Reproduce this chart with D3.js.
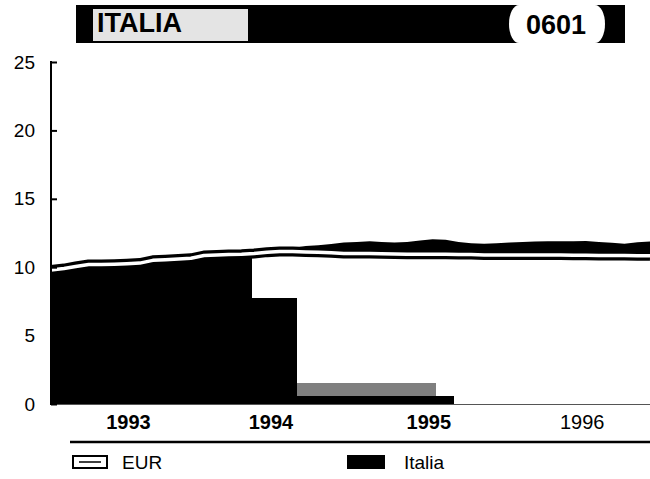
<!DOCTYPE html>
<html><head><meta charset="utf-8">
<script src="https://cdn.jsdelivr.net/npm/d3@7"></script>
<style>
html,body{margin:0;padding:0;background:#fff;}
svg{display:block;font-family:"Liberation Sans",Arial,Helvetica,sans-serif;}
</style></head><body>
<svg id="chart" width="650" height="479"></svg>
<script>
// ---------------- data ----------------
const titleText = "ITALIA";
const codeText = "0601";
const firstMonth = new Date(1993, 0, 1);
const afterLastMonth = new Date(1997, 0, 1);
// monthly rates, Jan 1993 .. Dec 1996
const eurValues = [
  9.8, 9.9, 10.05, 10.2, 10.2, 10.22, 10.25, 10.3, 10.5, 10.55, 10.6, 10.65,
  10.85, 10.9, 10.92, 10.95, 11.0, 11.1, 11.15, 11.15, 11.12, 11.1, 11.05, 11.0,
  11.0, 11.0, 10.98, 10.96, 10.95, 10.95, 10.95, 10.94, 10.93, 10.92, 10.9, 10.9,
  10.9, 10.9, 10.9, 10.9, 10.9, 10.88, 10.87, 10.86, 10.85, 10.85, 10.84, 10.83
];
const italiaValues = [
  9.55, 9.7, 9.9, 10.0, 10.0, 10.05, 10.05, 10.1, 10.3, 10.35, 10.4, 10.45,
  10.65, 10.7, 10.72, 10.75, 10.9, 11.05, 11.25, 11.4, 11.55, 11.6, 11.7, 11.8,
  11.85, 11.9, 11.85, 11.8, 11.85, 11.95, 12.05, 12.0, 11.85, 11.75, 11.72, 11.75,
  11.8, 11.85, 11.88, 11.9, 11.9, 11.9, 11.92, 11.85, 11.78, 11.72, 11.82, 11.88
];
const yTickValues = [0, 5, 10, 15, 20, 25];
const yearLabels = ["1993", "1994", "1995", "1996"];
const yearLabelDates = ["1993-07-05", "1994-06-10", "1995-06-22", "1996-06-22"];
const yearLabelBold = [true, true, true, false];
const legendNames = ["EUR", "Italia"];
// parts of the black fill lost in the photocopy (ink: 0 = gone, 0.5 = speckled)
const printLossFrom = ["1994-04-25", "1994-08-12", "1994-08-12", "1995-08-22"];
const printLossTo   = ["1994-08-12", "1995-08-22", "1995-07-10", "1997-01-01"];
const printLossLow  = [7.75, 0.55, 0.55, 0];
const printLossHigh = ["EUR", "EUR", 1.5, "EUR"];
const printLossInk  = [0, 0, 0.5, 0];

// ---------------- drawing ----------------
const svg = d3.select("#chart");
const months = d3.timeMonth.range(firstMonth, afterLastMonth);
const parse = d3.timeParse("%Y-%m-%d");

const x = d3.scaleTime().domain([months[0], months[months.length - 1]]).range([51, 650]);
const y = d3.scaleLinear().domain([0, 25]).range([404, 62]);

const eur = months.map((m, i) => ({date: m, v: eurValues[i]}));
const ita = months.map((m, i) => ({date: m, v: italiaValues[i]}));

// title bar
const tg = svg.append("g");
tg.append("rect").attr("x", 76).attr("y", 5).attr("width", 549).attr("height", 38).attr("fill", "#000");
tg.append("rect").attr("x", 93).attr("y", 9).attr("width", 155).attr("height", 32).attr("fill", "#e4e4e4");
tg.append("text").attr("x", 97).attr("y", 32).attr("font-size", 27).attr("font-weight", "bold")
  .attr("fill", "#000").text(titleText);
tg.append("rect").attr("x", 509).attr("y", 5).attr("width", 96).attr("height", 38)
  .attr("rx", 10).attr("ry", 19).attr("fill", "#fff");
tg.append("text").attr("x", 556).attr("y", 34).attr("text-anchor", "middle").attr("font-size", 27)
  .attr("font-weight", "bold").attr("fill", "#000").text(codeText);

// mask for photocopy loss
const defs = svg.append("defs");
const mask = defs.append("mask").attr("id", "print").attr("maskUnits", "userSpaceOnUse")
  .attr("x", 0).attr("y", 0).attr("width", 650).attr("height", 479);
mask.append("rect").attr("x", 0).attr("y", 0).attr("width", 650).attr("height", 479).attr("fill", "#fff");
printLossFrom.forEach((f, k) => {
  const d0 = parse(f), d1 = parse(printLossTo[k]);
  let top;
  if (printLossHigh[k] === "EUR") {
    const inside = eur.filter(d => d.date >= d3.timeMonth.floor(d0) && d.date <= d1);
    top = Math.round(y(d3.max(inside, d => d.v))) + 1;
  } else {
    top = Math.round(y(printLossHigh[k]));
  }
  const x0 = Math.round(x(d0)), x1 = Math.min(Math.round(x(d1)), 660);
  const bottom = printLossLow[k] === 0 ? 410 : Math.round(y(printLossLow[k]));
  const g = Math.round(255 * printLossInk[k]);
  mask.append("rect").attr("x", x0).attr("y", top).attr("width", x1 - x0)
    .attr("height", bottom - top).attr("fill", `rgb(${g},${g},${g})`)
    .attr("shape-rendering", "crispEdges");
});

// Italia area
const area = d3.area().x(d => x(d.date)).y0(y(0)).y1(d => y(d.v));
svg.append("path").datum(ita).attr("d", area).attr("fill", "#000").attr("mask", "url(#print)");

// baseline
svg.append("line").attr("x1", 51).attr("x2", 650).attr("y1", y(0) + 0.5).attr("y2", y(0) + 0.5)
  .attr("stroke", "#555").attr("stroke-width", 1);

// EUR hollow line
const line = d3.line().x(d => x(d.date)).y(d => y(d.v));
svg.append("path").datum(eur).attr("d", line).attr("fill", "none")
  .attr("stroke", "#000").attr("stroke-width", 10).attr("stroke-linejoin", "round");
svg.append("path").datum(eur).attr("d", line).attr("fill", "none")
  .attr("stroke", "#fff").attr("stroke-width", 3.5).attr("stroke-linejoin", "round");

// y axis
const yAxis = d3.axisLeft(y).tickValues(yTickValues).tickSize(-6).tickPadding(16);
const ya = svg.append("g").attr("transform", "translate(51,0)").call(yAxis);
ya.select(".domain").attr("stroke", "#000").attr("stroke-width", 2).attr("d", "M0,61V405");
ya.selectAll(".tick line").attr("stroke", "#000").attr("stroke-width", 2);
ya.selectAll(".tick text").attr("font-size", 19).attr("fill", "#000")
  .attr("font-family", "'Liberation Sans',Arial,sans-serif");

// year labels
svg.append("g").selectAll("text").data(yearLabels).join("text")
  .attr("x", (d, i) => x(parse(yearLabelDates[i])))
  .attr("y", 429)
  .attr("text-anchor", "middle")
  .attr("font-size", 20)
  .attr("font-weight", (d, i) => yearLabelBold[i] ? "bold" : "normal")
  .attr("fill", "#000")
  .text(d => d);

// separator
svg.append("line").attr("x1", 70).attr("x2", 650).attr("y1", 442).attr("y2", 442)
  .attr("stroke", "#000").attr("stroke-width", 2.5);

// legend
const lg = svg.append("g");
lg.append("rect").attr("x", 73).attr("y", 456).attr("width", 34).attr("height", 12)
  .attr("fill", "#fff").attr("stroke", "#000").attr("stroke-width", 2);
lg.append("line").attr("x1", 79).attr("x2", 101).attr("y1", 462).attr("y2", 462)
  .attr("stroke", "#000").attr("stroke-width", 1.5);
lg.append("text").attr("x", 122).attr("y", 469).attr("font-size", 19).attr("fill", "#000").text(legendNames[0]);
lg.append("rect").attr("x", 347).attr("y", 455).attr("width", 38).attr("height", 14).attr("fill", "#000");
lg.append("text").attr("x", 404).attr("y", 469).attr("font-size", 19).attr("fill", "#000").text(legendNames[1]);
</script>
</body></html>
